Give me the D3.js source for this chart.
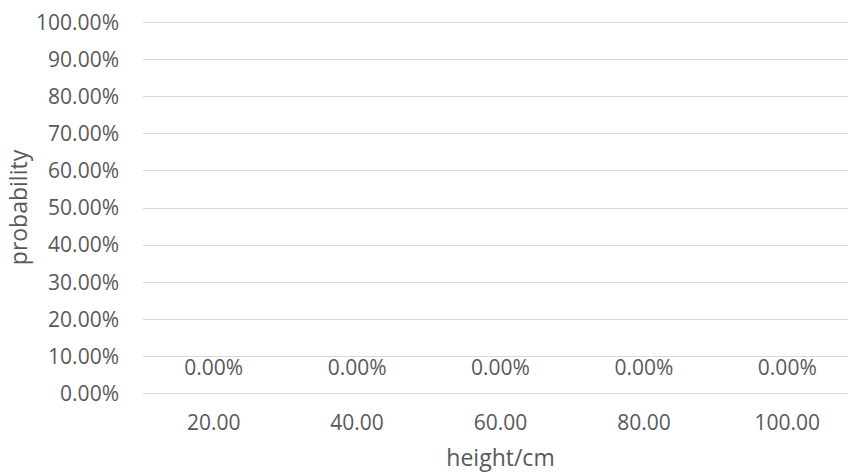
<!DOCTYPE html>
<html>
<head>
<meta charset="utf-8">
<script src="https://cdn.jsdelivr.net/npm/d3@7"></script>
<style>
  html, body { margin: 0; padding: 0; background: #fff; }
  svg { display: block; font-family: "Open Sans", "Noto Sans", sans-serif; }
</style>
</head>
<body>
<svg id="chart" width="848" height="474"></svg>
<script>
const categories = ["20.00", "40.00", "60.00", "80.00", "100.00"];
const probabilities = [0, 0, 0, 0, 0];
const yTickValues = [0, 0.1, 0.2, 0.3, 0.4, 0.5, 0.6, 0.7, 0.8, 0.9, 1.0];
const xTitle = "height/cm";
const yTitle = "probability";

const W = 848, H = 474;
const svg = d3.select("#chart");
const textColor = "#595959";
const gridColor = "#d9d9d9";
const tickFont = "21px";
const titleFont = "23px";

const x = d3.scaleBand().domain(categories).range([142, 859]).paddingInner(0.5).paddingOuter(0.25);
const y = d3.scaleLinear().domain([0, 1]).range([393, 22]);
const fmtPct = d3.format(".2%");

// gridlines
svg.append("g").selectAll("line").data(yTickValues).join("line")
  .attr("x1", 143).attr("x2", W)
  .attr("y1", d => Math.round(y(d)) + 0.5).attr("y2", d => Math.round(y(d)) + 0.5)
  .attr("stroke", gridColor).attr("stroke-width", 1);

// y axis labels
const yAxis = d3.axisLeft(y).tickValues(yTickValues).tickFormat(fmtPct).tickSize(0).tickPadding(0);
const gy = svg.append("g").attr("transform", "translate(119,0)").call(yAxis);
gy.select(".domain").remove();
gy.selectAll("text").attr("fill", textColor).style("font-size", tickFont)
  .style("font-family", "'Open Sans', sans-serif").attr("dy", "0.35em");

// x axis labels
const xAxis = d3.axisBottom(x).tickSize(0).tickPadding(0);
const gx = svg.append("g").attr("transform", "translate(0,419)").call(xAxis);
gx.select(".domain").remove();
gx.selectAll("text").attr("fill", textColor).style("font-size", tickFont)
  .style("font-family", "'Open Sans', sans-serif").attr("dy", "0.5em");

// bars (zero height)
svg.append("g").selectAll("rect").data(probabilities).join("rect")
  .attr("x", (d, i) => x(categories[i]))
  .attr("width", x.bandwidth())
  .attr("y", d => y(d))
  .attr("height", d => y(0) - y(d))
  .attr("fill", "#4472C4");

// data labels
svg.append("g").selectAll("text").data(probabilities).join("text")
  .attr("x", (d, i) => x(categories[i]) + x.bandwidth() / 2)
  .attr("y", d => y(d) - 25)
  .attr("dy", "0.35em")
  .attr("text-anchor", "middle")
  .attr("fill", textColor).style("font-size", tickFont)
  .text(d => fmtPct(d));

// axis titles
svg.append("text")
  .attr("x", 500.5).attr("y", 466)
  .attr("text-anchor", "middle")
  .attr("fill", textColor).style("font-size", titleFont)
  .text(xTitle);

svg.append("text")
  .attr("transform", "translate(27,207.5) rotate(-90)")
  .attr("text-anchor", "middle")
  .attr("fill", textColor).style("font-size", titleFont)
  .text(yTitle);
</script>
</body>
</html>
